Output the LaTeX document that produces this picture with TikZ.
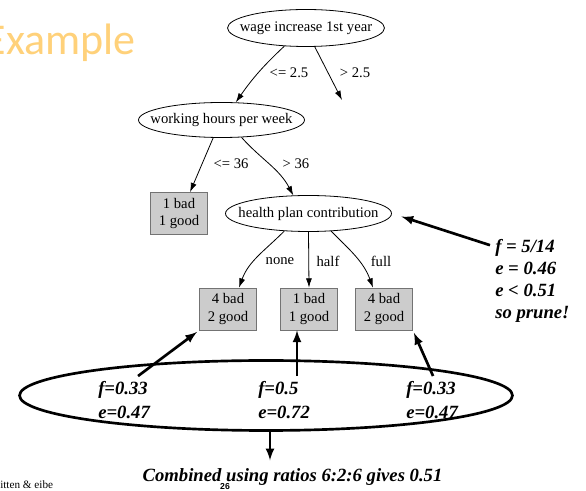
\documentclass[tikz,border=0pt]{standalone}
\usepackage{fontspec}
\setmainfont{Liberation Serif}
\newfontfamily\exfont{Carlito}
\newfontfamily\numfont{Liberation Sans}
\usetikzlibrary{shapes.geometric,arrows.meta}
\definecolor{exorange}{RGB}{255,209,122}
\newcommand{\lbl}[1]{\makebox[0pt]{#1}}

\tikzset{
  attr/.style={ellipse, draw, line width=0.6pt, inner sep=0pt, minimum width=124.5pt, minimum height=27pt},
  leaf/.style={rectangle, draw=black!55, fill=black!20, line width=0.5pt, inner sep=0pt,
    minimum width=42.75pt, minimum height=31.5pt, align=center},
  branch/.style={line width=0.6pt, -{Latex[length=7pt,width=4.5pt]}},
  cond/.style={inner sep=0pt},
  big/.style={line width=2pt, -latex},
  note/.style={inner sep=0pt, align=left, font=\fontsize{14}{18}\selectfont\bfseries\itshape}
}

\begin{document}
\begin{tikzpicture}[x=0.75pt, y=-0.75pt, font=\fontsize{11}{13}\selectfont]
  \useasboundingbox (0,0) rectangle (586,491);
  \clip (0,0) rectangle (586,491);

  \node[anchor=base east, inner sep=0pt, text=exorange, font=\exfont\fontsize{33}{38}\selectfont] (title) at (136,55) {Example};

  % tree
  \node[attr, minimum width=117.75pt, minimum height=27.75pt] (wage) at (306,28) {\lbl{wage increase 1st year}};
  \node[attr, minimum height=26.25pt] (hours) at (221.5,120) {\lbl{working hours per week}};
  \node[attr] (health) at (308.5,213.5) {\lbl{health plan contribution}};

  \node[leaf] (l1) at (179,213.5) {1 bad\\1 good};
  \node[leaf] (l2) at (228,309) {4 bad\\2 good};
  \node[leaf] (l3) at (309,309) {1 bad\\1 good};
  \node[leaf] (l4) at (384,309) {4 bad\\2 good};

  \coordinate (open) at (342,100);

  \draw[branch] (wage.-140) to[bend right=6] (hours.51);
  \draw[branch] (wage.-65) -- (open);
  \draw[branch] (hours.-115) -- ([xshift=8.25pt]l1.north);
  \draw[branch] (hours.-41) to[out=-48, in=118] (health.130);
  \draw[branch] (health.-144) to[out=-135, in=70] ([xshift=8.25pt]l2.north);
  \draw[branch] (health.south) -- (l3.north);
  \draw[branch] (health.-38) to[out=-45, in=110] ([xshift=-8.25pt]l4.north);

  \node[cond] (c1) at (289,73) {<= 2.5};
  \node[cond] (c2) at (355,73) {> 2.5};
  \node[cond] (c3) at (231,164) {<= 36};
  \node[cond] (c4) at (296,164) {> 36};
  \node[cond] (c5) at (280,261) {none};
  \node[cond] (c6) at (328,261) {half};
  \node[cond] (c7) at (381,261) {full};

  % pruning
  \node[note, anchor=west, font=\fontsize{14}{16.5}\selectfont\bfseries\itshape] (pr) at (495,281) {f = 5/14\\e = 0.46\\e < 0.51\\so prune!};
  \draw[big, shorten >=7.5pt] ([shift={(-5,6)}]pr.north west) -- (health.east);

  \node[draw, ellipse, line width=2pt, inner sep=0pt, minimum width=369.75pt, minimum height=52.5pt] (grp) at (266,395.5) {};
  \node[note, anchor=west] (fl) at (98,400) {f=0.33\\e=0.47};
  \node[note, anchor=west] (fm) at (258,400) {f=0.5\\e=0.72};
  \node[note, anchor=west] (fr) at (406,400) {f=0.33\\e=0.47};

  \coordinate (mtip) at ([xshift=-9pt]l3.south);
  \coordinate (mfoot) at (mtip |- fm.north);
  \draw[big, shorten >=2pt] ([shift={(14,-5)}]fl.north) -- (l2.south west);
  \draw[big] ([yshift=3.75pt]mfoot) -- (mtip);
  \draw[big, shorten >=2pt] ([shift={(1,-5)}]fr.north) -- (l4.south east);

  \node[note] (comb) at (292.5,477) {Combined using ratios 6:2:6 gives 0.51};
  \coordinate (dn) at ([xshift=3pt]grp.south);
  \draw[big, shorten >=6pt] (dn) -- (dn |- comb.north);

  \node[inner sep=0pt, font=\numfont\bfseries\fontsize{6.5}{7}\selectfont] (pg) at (225,487) {26};
  \node[anchor=west, inner sep=0pt, font=\fontsize{8.4}{10}\selectfont] (cr) at (0,485) {itten \& eibe};
\end{tikzpicture}
\end{document}
